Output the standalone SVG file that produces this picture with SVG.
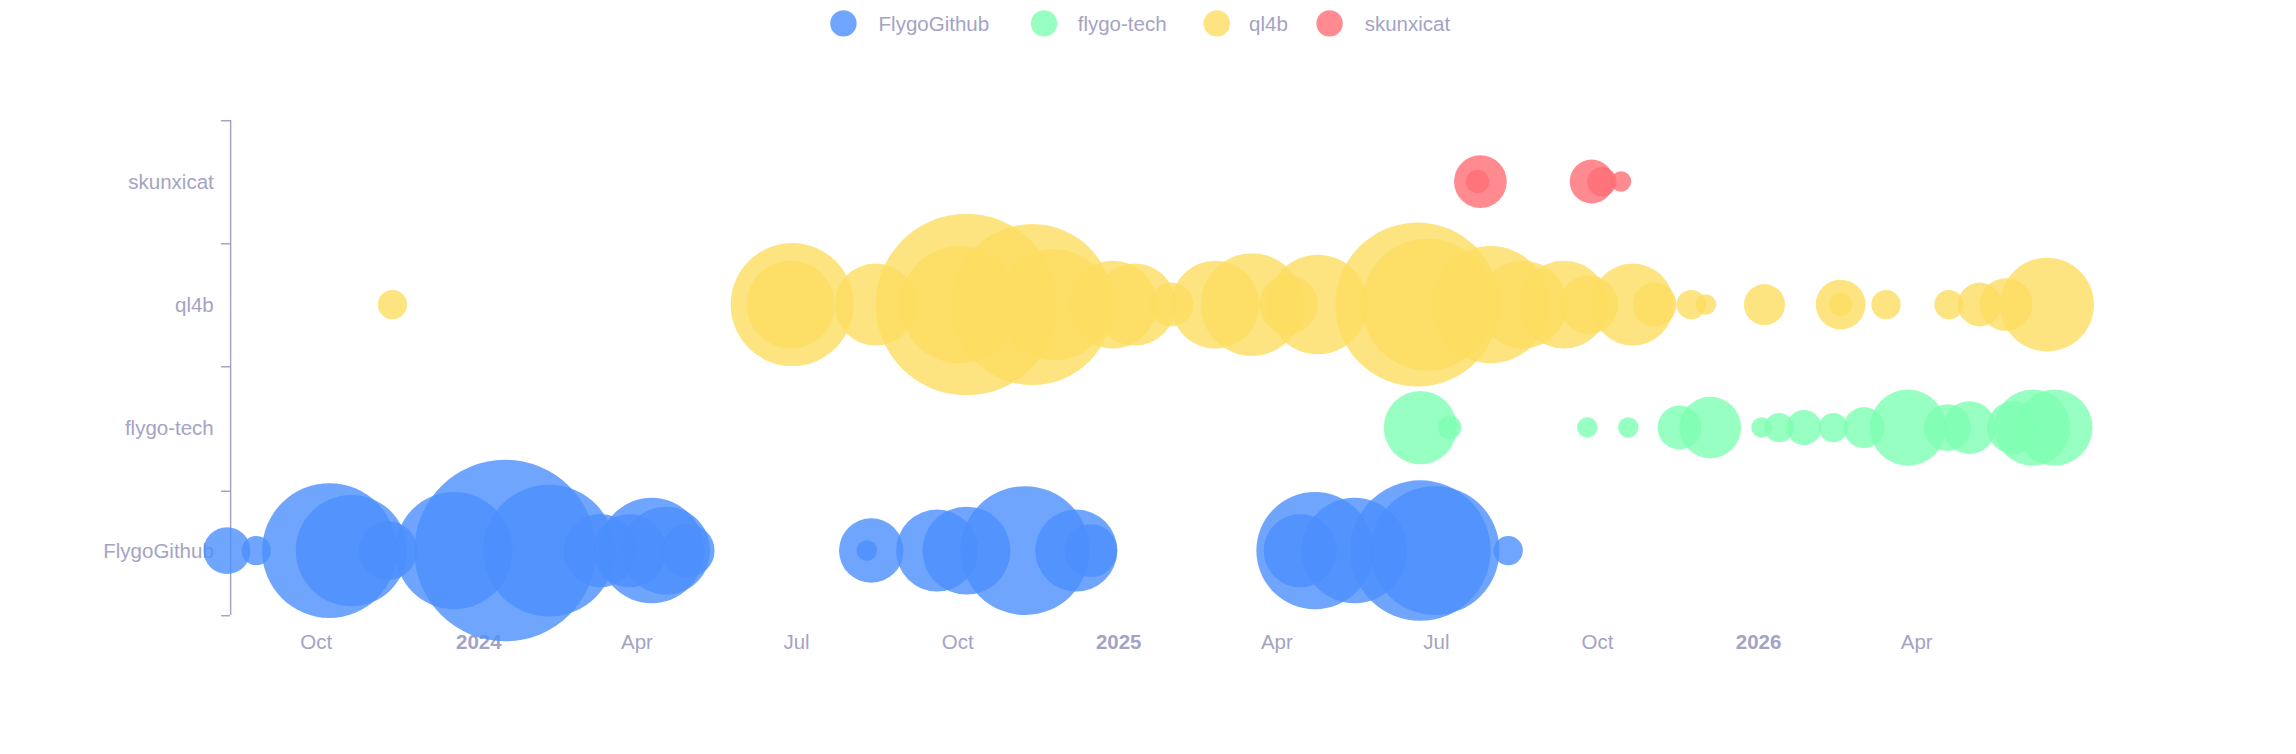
<svg xmlns="http://www.w3.org/2000/svg" width="2296" height="754" viewBox="0 0 2296 754">
<style>
text{font-family:"Liberation Sans",Arial,sans-serif;fill:#a4a3c4;font-size:14px}
.b{fill:#4b8ffd;fill-opacity:.8}
.g{fill:#7dffb2;fill-opacity:.8}
.y{fill:#fddd60;fill-opacity:.8}
.r{fill:#ff6e76;fill-opacity:.8}
.ax{stroke:#a4a3c4;stroke-width:1;fill:none}
</style>
<rect width="2296" height="754" fill="#fff"/>
<g transform="scale(1.46429)">
<g id="legend">
<circle cx="576" cy="16" r="9" class="b"/><text x="600" y="21">FlygoGithub</text>
<circle cx="713" cy="16" r="9" class="g"/><text x="736" y="21">flygo-tech</text>
<circle cx="831" cy="16" r="9" class="y"/><text x="853" y="21">ql4b</text>
<circle cx="908" cy="16" r="9" class="r"/><text x="932" y="21">skunxicat</text>
</g>
<g id="axes">
<path class="ax" d="M157.5 82V420M151 82.5h6M151 166.5h6M151 250.5h6M151 335.5h6M151 420.5h6"/>
<g text-anchor="end">
<text x="146" y="129">skunxicat</text>
<text x="146" y="213">ql4b</text>
<text x="146" y="297">flygo-tech</text>
<text x="146" y="381">FlygoGithub</text>
</g>
<g text-anchor="middle">
<text x="216" y="443">Oct</text><text x="327" y="443" font-weight="bold">2024</text><text x="435" y="443">Apr</text>
<text x="544" y="443">Jul</text><text x="654" y="443">Oct</text><text x="764" y="443" font-weight="bold">2025</text>
<text x="872" y="443">Apr</text><text x="981" y="443">Jul</text><text x="1091" y="443">Oct</text>
<text x="1201" y="443" font-weight="bold">2026</text><text x="1309" y="443">Apr</text>
</g>
</g>
<g id="FlygoGithub" transform="translate(0,376)">
<circle cx="155" r="16" class="b"/><circle cx="175" r="10" class="b"/><circle cx="225" r="46" class="b"/><circle cx="240" r="38" class="b"/><circle cx="265" r="20" class="b"/><circle cx="310" r="40" class="b"/><circle cx="345" r="62" class="b"/><circle cx="375" r="45" class="b"/><circle cx="410" r="25" class="b"/><circle cx="430" r="25" class="b"/><circle cx="445" r="36" class="b"/><circle cx="455" r="30" class="b"/><circle cx="470" r="18" class="b"/><circle cx="595" r="22" class="b"/><circle cx="592" r="7" class="b"/><circle cx="640" r="28" class="b"/><circle cx="660" r="30" class="b"/><circle cx="700" r="44" class="b"/><circle cx="735" r="28" class="b"/><circle cx="745" r="18" class="b"/><circle cx="898" r="40" class="b"/><circle cx="888" r="25" class="b"/><circle cx="925" r="36" class="b"/><circle cx="970" r="48" class="b"/><circle cx="980" r="44" class="b"/><circle cx="1030" r="10" class="b"/>
</g>
<g id="ql4b" transform="translate(0,208)">
<circle cx="268" r="10" class="y"/><circle cx="541" r="42" class="y"/><circle cx="540" r="30" class="y"/><circle cx="598" r="28" class="y"/><circle cx="660" r="62" class="y"/><circle cx="655" r="40" class="y"/><circle cx="705" r="55" class="y"/><circle cx="720" r="38" class="y"/><circle cx="760" r="30" class="y"/><circle cx="775" r="28" class="y"/><circle cx="800" r="15" class="y"/><circle cx="830" r="30" class="y"/><circle cx="855" r="35" class="y"/><circle cx="880" r="20" class="y"/><circle cx="900" r="34" class="y"/><circle cx="968" r="56" class="y"/><circle cx="975" r="45" class="y"/><circle cx="1018" r="40" class="y"/><circle cx="1040" r="30" class="y"/><circle cx="1068" r="30" class="y"/><circle cx="1085" r="20" class="y"/><circle cx="1115" r="28" class="y"/><circle cx="1130" r="15" class="y"/><circle cx="1155" r="10" class="y"/><circle cx="1165" r="7" class="y"/><circle cx="1205" r="14" class="y"/><circle cx="1257" r="17" class="y"/><circle cx="1257" r="8" class="y"/><circle cx="1288" r="10" class="y"/><circle cx="1331" r="10" class="y"/><circle cx="1352" r="15" class="y"/><circle cx="1370" r="18" class="y"/><circle cx="1398" r="32" class="y"/>
</g>
<g id="flygo-tech" transform="translate(0,292)">
<circle cx="970" r="25" class="g"/><circle cx="990" r="8" class="g"/><circle cx="1084" r="7" class="g"/><circle cx="1112" r="7" class="g"/><circle cx="1147" r="15" class="g"/><circle cx="1168" r="21" class="g"/><circle cx="1203" r="7" class="g"/><circle cx="1215" r="10" class="g"/><circle cx="1232" r="12" class="g"/><circle cx="1252" r="10" class="g"/><circle cx="1273" r="14" class="g"/><circle cx="1303" r="26" class="g"/><circle cx="1330" r="16" class="g"/><circle cx="1345" r="18" class="g"/><circle cx="1375" r="18" class="g"/><circle cx="1388" r="26" class="g"/><circle cx="1403" r="26" class="g"/>
</g>
<g id="skunxicat" transform="translate(0,124)">
<circle cx="1011" r="18" class="r"/><circle cx="1009" r="8" class="r"/><circle cx="1087" r="15" class="r"/><circle cx="1094" r="10" class="r"/><circle cx="1107" r="7" class="r"/>
</g>
</g>
</svg>
